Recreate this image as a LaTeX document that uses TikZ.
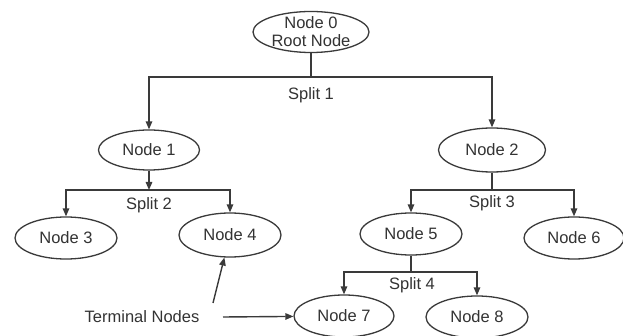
\documentclass[tikz,border=0pt]{standalone}
\usepackage{fontspec}
\setmainfont{Liberation Sans}
\usetikzlibrary{shapes.geometric,arrows.meta}
\definecolor{ln}{HTML}{3A3A3A}
\definecolor{tx}{HTML}{333333}
\tikzset{
  ell/.style={ellipse,draw=ln,line width=1.3pt,inner sep=0pt,text=tx,font=\fontsize{16.5}{19}\selectfont},
  txt/.style={inner sep=0pt,text=tx,font=\fontsize{16.5}{19}\selectfont},
  conn/.style={draw=ln,line width=1.4pt},
  arr/.style={conn,-{Triangle[length=8pt,width=6.5pt]}},
}
\begin{document}
\begin{tikzpicture}[x=1pt,y=-1pt]
\useasboundingbox[fill=white] (0,0) rectangle (623,336);
% nodes
\node[ell,minimum width=116,minimum height=41] (n0) at (311,32) {};
\node[txt,align=center] (n0t) at (n0) {Node 0\\[-1pt]Root Node};
\node[ell,minimum width=101,minimum height=40] (n1) at (149,150) {Node 1};
\node[ell,minimum width=107,minimum height=44] (n2) at (492,150) {Node 2};
\node[ell,minimum width=102,minimum height=42] (n3) at (66,238) {Node 3};
\node[ell,minimum width=102,minimum height=44] (n4) at (230,235) {Node 4};
\node[ell,minimum width=102,minimum height=42] (n5) at (411,234) {Node 5};
\node[ell,minimum width=100,minimum height=42] (n6) at (574,238) {Node 6};
\node[ell,minimum width=100,minimum height=42] (n7) at (344,316) {Node 7};
\node[ell,minimum width=102,minimum height=42] (n8) at (477,317) {Node 8};
% split points
\coordinate (b1) at (311,77);
\coordinate (b2) at (149,190);
\coordinate (b3) at (492,190);
\coordinate (b4) at (411,272);
% split 1
\draw[conn] (n0) -- (b1);
\draw[arr] (b1) -| (n1);
\draw[arr] (b1) -| (n2);
\node[txt] (s1) at (311,95) {Split 1};
% split 2
\draw[arr] (n1) -- (b2);
\draw[arr] (b2) -| (n3);
\draw[arr] (b2) -| (n4);
\node[txt] (s2) at (149,205) {Split 2};
% split 3
\draw[conn] (n2) -- (b3);
\draw[arr] (b3) -| (n5);
\draw[arr] (b3) -| (n6);
\node[txt] (s3) at (492,203) {Split 3};
% split 4
\draw[conn] (n5) -- (b4);
\draw[arr] (b4) -| (n7);
\draw[arr] (b4) -| (n8);
\node[txt] (s4) at (412,285) {Split 4};
% terminal nodes
\node[txt] (term) at (142,317) {Terminal Nodes};
\coordinate (t1) at (223,317);
\coordinate (t2) at (213,303);
\draw[arr] (t1) -- (n7);
\draw[arr] (t2) -- (n4);
\end{tikzpicture}
\end{document}
